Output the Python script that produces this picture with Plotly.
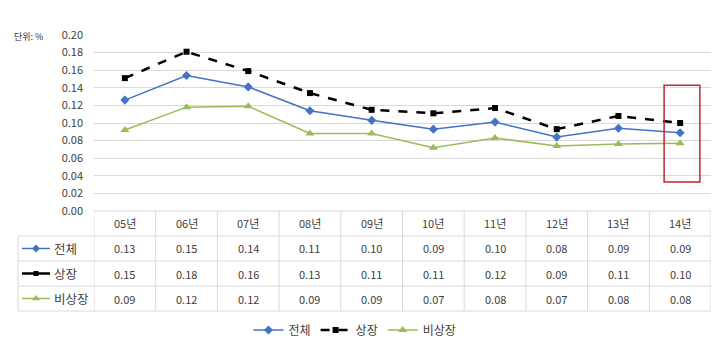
import plotly.graph_objects as go

categories = ["05년", "06년", "07년", "08년", "09년", "10년", "11년", "12년", "13년", "14년"]
total = [0.126, 0.154, 0.141, 0.114, 0.103, 0.093, 0.101, 0.084, 0.094, 0.089]
listed = [0.151, 0.181, 0.159, 0.134, 0.115, 0.111, 0.117, 0.093, 0.108, 0.100]
unlisted = [0.092, 0.118, 0.119, 0.088, 0.088, 0.072, 0.083, 0.074, 0.076, 0.077]
total_txt = ["0.13", "0.15", "0.14", "0.11", "0.10", "0.09", "0.10", "0.08", "0.09", "0.09"]
listed_txt = ["0.15", "0.18", "0.16", "0.13", "0.11", "0.11", "0.12", "0.09", "0.11", "0.10"]
unlisted_txt = ["0.09", "0.12", "0.12", "0.09", "0.09", "0.07", "0.08", "0.07", "0.08", "0.08"]
series_names = ["전체", "상장", "비상장"]
y_ticks = [0.00, 0.02, 0.04, 0.06, 0.08, 0.10, 0.12, 0.14, 0.16, 0.18, 0.20]

FONT = "Noto Sans CJK KR"
W, H = 720, 356
PL, PR, PT, PB = 94, 711, 35, 211  # plot area in pixels
BLUE, BLACK, GREEN = "#4472C4", "#000000", "#9BBB59"
GRID = "#d9d9d9"
TXT = "#404040"


def px(xp):
    return xp / W


def py(yp):
    return 1 - yp / H


styles = [
    dict(color=BLUE, width=1.5, dash="solid", symbol="diamond", size=7),
    dict(color=BLACK, width=2.5, dash="dash", symbol="square", size=6),
    dict(color=GREEN, width=1.5, dash="solid", symbol="triangle-up", size=8),
]
series_vals = [total, listed, unlisted]

fig = go.Figure()
for nm, vals, st in zip(series_names, series_vals, styles):
    fig.add_trace(go.Scatter(x=categories, y=vals, name=nm, mode="lines+markers",
                             line=dict(color=st["color"], width=st["width"], dash=st["dash"]),
                             marker=dict(symbol=st["symbol"], size=st["size"], color=st["color"])))

shapes = []
annotations = []

row_edges = [211, 236, 261, 286, 311]
n = len(categories)
shapes.append(dict(type="line", xref="paper", yref="paper", x0=px(PL), x1=px(PR),
                   y0=py(row_edges[0]), y1=py(row_edges[0]), line=dict(color=GRID, width=1)))
for ye in row_edges[1:]:
    shapes.append(dict(type="line", xref="paper", yref="paper", x0=px(18), x1=px(PR),
                       y0=py(ye), y1=py(ye), line=dict(color=GRID, width=1)))
for i in range(n + 1):
    shapes.append(dict(type="line", xref="x", yref="paper", x0=i - 0.5, x1=i - 0.5,
                       y0=py(row_edges[0]), y1=py(row_edges[-1]), line=dict(color=GRID, width=1)))
shapes.append(dict(type="line", xref="paper", yref="paper", x0=px(18), x1=px(18),
                   y0=py(row_edges[1]), y1=py(row_edges[-1]), line=dict(color=GRID, width=1)))

for i, c in enumerate(categories):
    annotations.append(dict(x=c, y=py(223.5), xref="x", yref="paper", text=c, showarrow=False,
                            xanchor="center", yanchor="middle",
                            font=dict(family=FONT, size=11, color=TXT)))

row_texts = [total_txt, listed_txt, unlisted_txt]
for r, (vals, nm, st) in enumerate(zip(row_texts, series_names, styles)):
    yc = (row_edges[r + 1] + row_edges[r + 2]) / 2
    for i, v in enumerate(vals):
        annotations.append(dict(x=categories[i], y=py(yc), xref="x", yref="paper", text=v,
                                xanchor="center", yanchor="middle",
                                showarrow=False, font=dict(family=FONT, size=11, color=TXT)))
    shapes.append(dict(type="line", xref="paper", yref="paper", x0=px(22), x1=px(50),
                       y0=py(yc), y1=py(yc),
                       line=dict(color=st["color"], width=st["width"])))
    annotations.append(dict(x=px(52), y=py(yc), xref="paper", yref="paper", text=nm,
                            xanchor="left", yanchor="middle", showarrow=False,
                            font=dict(family=FONT, size=12.5, color=TXT)))
    fig.add_trace(go.Scatter(x=[36], y=[yc], xaxis="x2", yaxis="y2", mode="markers",
                             marker=dict(symbol=st["symbol"], size=st["size"] - 1, color=st["color"]),
                             showlegend=False, hoverinfo="skip"))

shapes.append(dict(type="rect", xref="x", yref="y", x0=9 - 0.26, x1=9 + 0.32,
                   y0=0.033, y1=0.143, line=dict(color="#C0282D", width=1.5)))

annotations.append(dict(x=px(12), y=py(37), xref="paper", yref="paper", text="단위: %",
                        xanchor="left", yanchor="middle", showarrow=False,
                        font=dict(family=FONT, size=9, color="#333333")))

fig.update_layout(
    width=W, height=H,
    margin=dict(l=0, r=0, t=0, b=0, pad=0, autoexpand=False),
    paper_bgcolor="white", plot_bgcolor="rgba(0,0,0,0)",
    font=dict(family=FONT, size=11, color=TXT),
    showlegend=True,
    legend=dict(orientation="h", x=px(355), xanchor="center", y=py(330), yanchor="middle",
                font=dict(family=FONT, size=12, color=TXT), itemwidth=30, tracegroupgap=0),
    shapes=shapes,
    annotations=annotations,
    xaxis=dict(type="category", categoryorder="array", categoryarray=categories,
               domain=[px(PL), px(PR)], range=[-0.5, n - 0.5], showticklabels=False,
               showgrid=False, zeroline=False, showline=False, ticks="", fixedrange=True),
    yaxis=dict(domain=[py(PB), py(PT)], range=[0, 0.2], tickvals=y_ticks, tickformat=".2f",
               showgrid=True, gridcolor=GRID, gridwidth=1, zeroline=False, showline=False,
               ticks="", ticklabelstandoff=10, tickfont=dict(family=FONT, size=11, color=TXT)),
    xaxis2=dict(domain=[0, 1], anchor="y2", range=[0, W], visible=False),
    yaxis2=dict(domain=[0, 1], anchor="x2", range=[H, 0], visible=False),
)

fig.write_html("out.html", post_script="document.body.style.margin='0';",
               config=dict(displayModeBar=False))
